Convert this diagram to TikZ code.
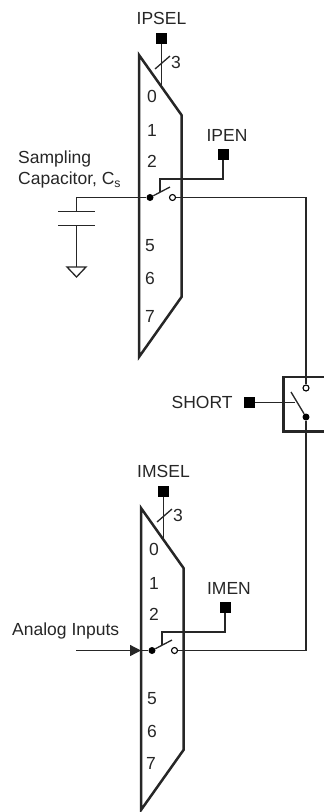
\documentclass[tikz,border=0pt]{standalone}
\usepackage{fontspec}
\setmainfont{Liberation Sans}
\usetikzlibrary{positioning, arrows.meta}
\tikzset{
    wire/.style={line width=1.3pt, draw=black!85},
    muxedge/.style={line width=2.5pt, draw=black!85, line join=miter},
    pad/.style={rectangle, fill=black, minimum size=11pt, inner sep=0pt},
    closedpin/.style={circle, fill=black, minimum size=7pt, inner sep=0pt},
    openpin/.style={circle, draw=black, fill=white, line width=1.1pt, minimum size=6pt, inner sep=0pt},
    lbl/.style={font=\fontsize{17.5}{20}\selectfont, text=black!85, inner sep=0pt},
    muxpic/.pic={
        % Trapezoid body
        \draw[muxedge] (0,0) -- (42.5,60) -- (42.5,242) -- (0,302) -- cycle;
        % Select bus
        \node[pad] (sel) at (22.5,-17) {};
        \coordinate (bus) at (22.5,31);
        \draw[wire] (sel) -- (bus);
        \coordinate (slasha) at (16,14);
        \coordinate (slashb) at (31,1);
        \draw[wire] (slasha) -- (slashb);
        \node[lbl] (width) at (37,7) {3};
        % Channels
        \node[lbl] (ch0) at (13,41) {0};
        \node[lbl] (ch1) at (13,75) {1};
        \node[lbl] (ch2) at (13,106) {2};
        \node[lbl] (ch5) at (11,191) {5};
        \node[lbl] (ch6) at (11,223.5) {6};
        % Switch
        \node[closedpin] (dot) at (11,142.5) {};
        \node[openpin] (open) at (33.5,142.5) {};
        \coordinate (arm) at (31,132);
        \draw[wire] (dot) -- (arm);
        \node[pad] (en) at (84,99) {};
        \coordinate (tap) at (21,137);
        \draw[wire] (en) |- (21,124) -- (tap);
    }
}

\begin{document}
\begin{tikzpicture}[x=1pt, y=-1pt]

    \useasboundingbox (0,0) rectangle (324,812);

    % Upper and lower multiplexers
    \pic (ip) at (139,55) {muxpic};
    \pic (im) at (141,508) {muxpic};
    \node[lbl] (ipch7) at (150,316) {7};
    \node[lbl] (imch7) at (151,763) {7};

    % Labels of the pads
    \node[lbl, above=7pt of ipsel] (ipsellabel) {IPSEL};
    \node[lbl, above=7pt of ipen, xshift=4pt] (ipenlabel) {IPEN};
    \node[lbl, above=7pt of imsel] (imsellabel) {IMSEL};
    \node[lbl, above=7pt of imen, xshift=4pt] (imenlabel) {IMEN};

    % Sampling capacitor
    \node[lbl, align=left, anchor=west] (caplabel) at (18,169.5) {Sampling\\[1pt]Capacitor, C\textsubscript{s}};
    \node[minimum width=36.5pt, minimum height=13pt, inner sep=0pt] (cap) at (76.5,218.5) {};
    \coordinate (gnd) at (76.5,267);
    \draw[wire] (ipdot) -| (cap.north);
    \draw[wire] (cap.north west) -- (cap.north east);
    \draw[wire] (cap.south west) -- (cap.south east);
    \draw[wire] (cap.south) -- (gnd);
    \draw[wire, fill=white] (67,267) -- (86,267) -- (76.5,277) -- cycle;

    % Short switch
    \node[draw=black!85, line width=2.5pt, minimum width=45pt, minimum height=54.5pt, inner sep=0pt] (shortbox) at (306,404) {};
    \node[openpin] (shorton) at (306,388) {};
    \node[closedpin] (shortdot) at (306,417) {};
    \node[pad] (shortpad) at (249.5,402.5) {};
    \node[lbl, left=11pt of shortpad] (shortlabel) {SHORT};
    \coordinate (shortarm) at (291,392);
    \coordinate (shortgate) at (295,402.5);
    \draw[wire] (shortpad) -- (shortgate);
    \draw[wire] (shortarm) -- (shortdot);
    \draw[wire] (ipopen) -| (shorton);
    \draw[wire] (shortdot) |- (imopen);

    % Analog input
    \node[lbl, anchor=west] (inlabel) at (12,631) {Analog Inputs};
    \coordinate (instart) at (76,650.5);
    \coordinate (inend) at (141,650.5);
    \draw[wire] (instart) -- (imdot);
    \draw[-{Triangle[length=11pt, width=11pt]}, wire, fill=black] (instart) -- (inend);

\end{tikzpicture}
\end{document}
